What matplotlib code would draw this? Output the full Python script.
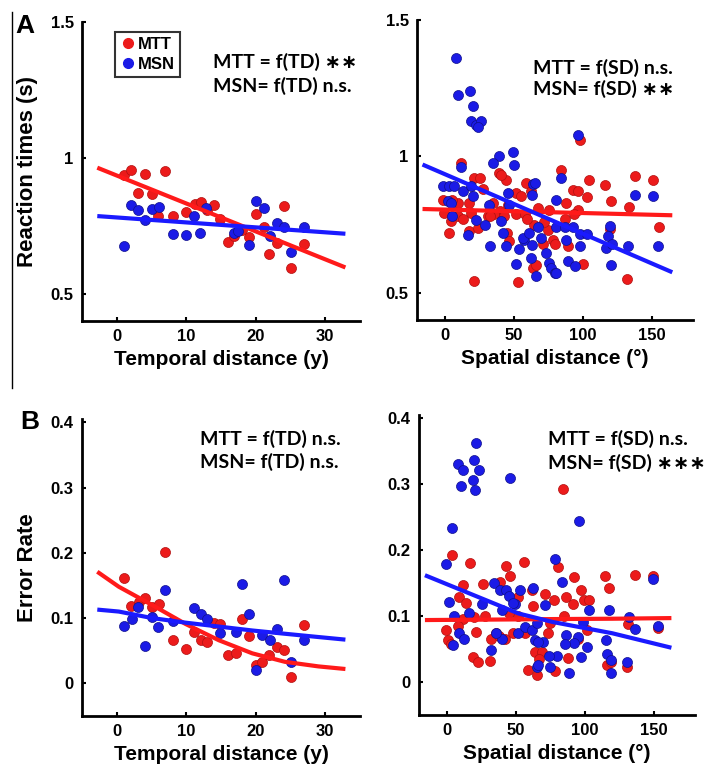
import numpy as np
import matplotlib
matplotlib.use('Agg')
import matplotlib.pyplot as plt
from matplotlib.lines import Line2D

# ---- data ----
# A, left: reaction time vs temporal distance
td_rt_mtt_x = [1.0, 2.1, 4.1, 7.0, 3.1, 5.0, 6.0, 8.1, 10.0, 11.3, 12.1, 13.0, 14.0, 14.9, 16.0,
               16.8, 18.0, 19.0, 20.0, 21.2, 21.9, 23.1, 24.1, 25.0, 27.0]
td_rt_mtt_y = [0.937, 0.955, 0.942, 0.952, 0.871, 0.868, 0.787, 0.787, 0.80, 0.829, 0.837, 0.81,
               0.825, 0.775, 0.689, 0.713, 0.735, 0.709, 0.795, 0.745, 0.647, 0.687, 0.822, 0.594, 0.683]
td_rt_msn_x = [1.0, 2.1, 3.1, 4.1, 5.1, 6.1, 8.1, 10.0, 11.1, 12.0, 12.8, 16.8, 17.5, 19.0, 20.0,
               21.2, 22.1, 23.0, 24.1, 25.0, 27.0]
td_rt_msn_y = [0.675, 0.825, 0.807, 0.771, 0.813, 0.819, 0.72, 0.717, 0.787, 0.725, 0.815, 0.725,
               0.73, 0.68, 0.841, 0.817, 0.711, 0.759, 0.747, 0.653, 0.745]
td_rt_fit_x = [-2.8, 32.9]
td_rt_fit_mtt = [0.964, 0.597]
td_rt_fit_msn = [0.786, 0.721]

# A, right: reaction time vs spatial distance
sd_rt_mtt_x = [-1.4, -0.2, 4.6, 3.4, 9.4, 11.8, 17.9, 19.1, 18, 21.5, 26, 23.9, 21.5, 31.2, 39.6,
               44.4, 41, 40, 36, 43, 46, 52, 51.7, 55, 59.2, 62.8, 65, 52.9, 63.8, 66.4, 71, 76,
               75, 78.5, 80, 84.6, 88, 87, 89.4, 93, 96.6, 96.6, 94, 97.8, 100.2, 103.1, 104.6,
               115.9, 120.3, 119.6, 132.4, 133.3, 137.7, 151, 155, 10, 28, 45, 58, 68, 60, 35,
               47, 13, 5, 33, 72]
sd_rt_mtt_y = [0.84, 0.793, 0.762, 0.72, 0.83, 0.976, 0.83, 0.793, 0.725, 0.92, 0.92, 0.738, 0.543,
               0.78, 0.94, 0.915, 0.933, 0.80, 0.79, 0.78, 0.82, 0.79, 0.866, 0.854, 0.902, 0.872,
               0.75, 0.539, 0.59, 0.60, 0.68, 0.805, 0.73, 0.695, 0.68, 0.949, 0.83, 0.771, 0.671,
               0.876, 0.872, 0.802, 0.787, 1.059, 0.606, 0.85, 0.915, 0.894, 0.835, 0.732, 0.551,
               0.815, 0.929, 0.915, 0.74, 0.78, 0.88, 0.72, 0.79, 0.81, 0.77, 0.83, 0.69, 0.77,
               0.84, 0.78, 0.76]
sd_rt_msn_x = [8.2, 9.9, 18.4, 20.3, 19.1, 22.7, 26.3, 24, 11.8, 39.1, 34.8, 49.8, 50.5, -1.4, 3.4,
               7, 13, 19, 2.2, 4.6, 20.3, 22.7, 16.7, 32.4, 40.8, 42, 33.1, 44.4, 45.7, 63.8, 65.2,
               63, 54.1, 51.7, 57.7, 56.8, 61, 63.5, 62.8, 66.4, 67.6, 73.7, 76, 77.3, 79.7, 80.9,
               84.6, 96.6, 137.7, 151, 81, 87, 93, 98, 103, 88, 97.8, 119.6, 118.3, 117.2, 121,
               132.9, 154.6, 89.4, 94.2, 120.8, 80.9, 70, 5, 47, 29]
sd_rt_msn_y = [1.36, 1.226, 1.238, 1.183, 1.128, 1.116, 1.128, 1.107, 0.961, 1.0, 0.976, 1.015, 0.97,
               0.89, 0.89, 0.89, 0.872, 0.89, 0.835, 0.83, 0.854, 0.768, 0.713, 0.823, 0.762, 0.72,
               0.671, 0.671, 0.866, 0.90, 0.902, 0.86, 0.66, 0.607, 0.695, 0.70, 0.72, 0.675, 0.628,
               0.56, 0.74, 0.647, 0.61, 0.59, 0.573, 0.84, 0.921, 1.079, 0.86, 0.856, 0.74, 0.74,
               0.74, 0.714, 0.714, 0.695, 0.671, 0.746, 0.707, 0.665, 0.68, 0.673, 0.673, 0.616,
               0.598, 0.60, 0.573, 0.70, 0.78, 0.82, 0.75]
sd_rt_fit_x = [-16, 165]
sd_rt_fit_mtt = [0.807, 0.784]
sd_rt_fit_msn = [0.97, 0.575]

# B, left: error rate vs temporal distance
td_er_mtt_x = [7.0, 1.0, 2.0, 3.2, 4.1, 5.1, 6.1, 8.1, 10.0, 11.1, 12.1, 13.0, 14.0, 14.9, 16.0,
               17.1, 18.0, 19.0, 20.0, 20.9, 21.9, 23.0, 24.0, 25.0, 27.0]
td_er_mtt_y = [0.201, 0.161, 0.118, 0.125, 0.131, 0.117, 0.121, 0.067, 0.053, 0.079, 0.066, 0.063,
               0.092, 0.091, 0.043, 0.046, 0.098, 0.072, 0.028, 0.033, 0.043, 0.055, 0.051, 0.010, 0.090]
td_er_msn_x = [1.0, 2.2, 3.1, 4.1, 5.1, 6.0, 7.0, 8.1, 11.1, 12.1, 13.0, 14.9, 17.1, 18.0, 19.0,
               20.0, 20.9, 22.0, 23.1, 24.1, 25.0, 27.0]
td_er_msn_y = [0.088, 0.098, 0.117, 0.058, 0.102, 0.086, 0.143, 0.095, 0.115, 0.106, 0.098, 0.077,
               0.079, 0.152, 0.106, 0.021, 0.074, 0.067, 0.084, 0.159, 0.033, 0.066]
td_er_fit_x = [-2.8, 0.3, 5.1, 9.9, 14.7, 19.5, 24.2, 29.0, 32.9]
td_er_fit_mtt = [0.171, 0.148, 0.120, 0.091, 0.066, 0.046, 0.033, 0.026, 0.022]
td_er_fit_msn = [0.113, 0.110, 0.100, 0.093, 0.087, 0.081, 0.076, 0.071, 0.067]

# B, right: error rate vs spatial distance
sd_er_mtt_x = [4.0, 16.9, 43.3, 46.2, 56.4, 11.7, 9.3, 26.4, 39, 61.7, 71.2, 52.1, 62.9, 20, 12,
               -0.2, 1, 3, 21.2, 31.9, 35.5, 38, 18.8, 22.4, 31.2, 59.3, 65.2, 64.1, 68.8, 73.8,
               52, 80.7, 92.6, 114.8, 117.6, 136.2, 149.8, 97.4, 86.2, 99.8, 103.3, 91.4, 78, 85,
               131.4, 152.9, 102, 87.9, 116.4, 130.7, 78.3, 84.3, 45, 28, 8, 14, 48, 42, 67, 95,
               75, 57, 119]
sd_er_mtt_y = [0.192, 0.18, 0.176, 0.161, 0.182, 0.147, 0.129, 0.148, 0.152, 0.139, 0.134, 0.129,
               0.115, 0.099, 0.095, 0.079, 0.064, 0.058, 0.076, 0.066, 0.074, 0.07, 0.038, 0.031,
               0.032, 0.018, 0.011, 0.046, 0.046, 0.074, 0.10, 0.175, 0.159, 0.161, 0.143, 0.162,
               0.161, 0.14, 0.129, 0.124, 0.124, 0.118, 0.124, 0.10, 0.088, 0.082, 0.079, 0.036,
               0.026, 0.023, 0.016, 0.293, 0.105, 0.10, 0.085, 0.12, 0.075, 0.065, 0.035, 0.065,
               0.09, 0.075, 0.03]
sd_er_msn_x = [21.2, 8.1, 11.7, 20, 23.6, 18.8, 10.5, 20.7, 46.2, 4.0, -0.2, 1.7, 34, 39, 43, 45,
               53.3, 62.9, 16.4, 5.7, 26, 40.2, 49.8, 9.3, 12.9, 4.5, 40.2, 52.1, 56.9, 61.6, 64.1,
               65.2, 70, 31.9, 65.2, 74.8, 71.2, 78.3, 95.7, 83.8, 149.8, 103.3, 117.6, 131.9, 136.6,
               152.9, 98.6, 86.7, 95, 92.6, 85.5, 102.1, 115.2, 116.4, 118.8, 118.8, 97.4, 88.6,
               130.7, 80, 66.4, 74, 48, 36, 66]
sd_er_msn_y = [0.362, 0.331, 0.321, 0.337, 0.321, 0.306, 0.297, 0.291, 0.309, 0.233, 0.179, 0.122,
               0.15, 0.14, 0.14, 0.13, 0.139, 0.143, 0.105, 0.10, 0.119, 0.109, 0.119, 0.074, 0.066,
               0.056, 0.066, 0.074, 0.084, 0.079, 0.064, 0.089, 0.061, 0.048, 0.023, 0.023, 0.117,
               0.187, 0.244, 0.152, 0.156, 0.109, 0.109, 0.099, 0.081, 0.085, 0.091, 0.071, 0.069,
               0.059, 0.058, 0.053, 0.063, 0.043, 0.033, 0.013, 0.038, 0.013, 0.031, 0.04, 0.026,
               0.04, 0.12, 0.075, 0.06]
sd_er_fit_x = [-15.7, 52.1, 77, 120, 162.9]
sd_er_fit_mtt = [0.094, 0.095, 0.0955, 0.096, 0.097]
sd_er_fit_msn = [0.162, 0.104, 0.091, 0.074, 0.052]

td_ticks = [0, 10, 20, 30]
sd_ticks = [0, 50, 100, 150]
rt_ticks = [0.5, 1, 1.5]
rt_labels = ['0.5', '1', '1.5']
er_ticks = [0, 0.1, 0.2, 0.3, 0.4]
er_labels = ['0', '0.1', '0.2', '0.3', '0.4']

RED = '#ec1b1b'
BLUE = '#1b1be6'
LRED = '#ff1a1a'
LBLUE = '#1a1aff'
W, H = 706, 767
BOLD = 'Liberation Sans'
ANN = ['Lato', 'DejaVu Sans']

fig = plt.figure(figsize=(W / 100, H / 100), dpi=100)


def px_axes(x0, x1, ytop, ybot):
    return fig.add_axes([x0 / W, 1 - ybot / H, (x1 - x0) / W, (ybot - ytop) / H])


def style(ax, xlim, ylim, xt, yt, ylab, xlabel):
    ax.set_xlim(*xlim)
    ax.set_ylim(*ylim)
    for s in ['top', 'right']:
        ax.spines[s].set_visible(False)
    for s in ['left', 'bottom']:
        ax.spines[s].set_linewidth(2)
    ax.set_xticks(xt)
    ax.set_yticks(yt)
    ax.set_yticklabels(ylab)
    ax.tick_params(direction='in', length=3, width=1.5, labelsize=12, pad=6)
    for lab in ax.get_xticklabels() + ax.get_yticklabels():
        lab.set_fontfamily(BOLD)
        lab.set_fontweight('bold')
    ax.set_xlabel(xlabel, fontsize=15, fontweight='bold', family=BOLD, labelpad=4)


def draw(ax, rx, ry, bx, by, fx, fr, fb):
    ax.scatter(rx, ry, s=52, color=RED, edgecolor='#b01010', linewidth=0.5, zorder=2)
    ax.scatter(bx, by, s=52, color=BLUE, edgecolor='#10108a', linewidth=0.5, zorder=2)
    ax.plot(fx, fr, color=LRED, lw=3, zorder=3, solid_capstyle='butt')
    ax.plot(fx, fb, color=LBLUE, lw=3, zorder=3, solid_capstyle='butt')


ax1 = px_axes(82, 360, 22, 321)
draw(ax1, td_rt_mtt_x, td_rt_mtt_y, td_rt_msn_x, td_rt_msn_y, td_rt_fit_x, td_rt_fit_mtt, td_rt_fit_msn)
style(ax1, (-5, 35), (0.4, 1.5), td_ticks, rt_ticks, rt_labels, 'Temporal distance (y)')
ax1.set_ylabel('Reaction times (s)', fontsize=16, fontweight='bold', family=BOLD, labelpad=9)

ax2 = px_axes(417, 693, 20, 320)
draw(ax2, sd_rt_mtt_x, sd_rt_mtt_y, sd_rt_msn_x, sd_rt_msn_y, sd_rt_fit_x, sd_rt_fit_mtt, sd_rt_fit_msn)
style(ax2, (-20, 180), (0.4, 1.5), sd_ticks, rt_ticks, rt_labels, 'Spatial distance (°)')

ax3 = px_axes(82, 360, 419, 716)
draw(ax3, td_er_mtt_x, td_er_mtt_y, td_er_msn_x, td_er_msn_y, td_er_fit_x, td_er_fit_mtt, td_er_fit_msn)
style(ax3, (-5, 35), (-0.05, 0.405), td_ticks, er_ticks, er_labels, 'Temporal distance (y)')
ax3.set_ylabel('Error Rate', fontsize=16, fontweight='bold', family=BOLD, labelpad=9)

ax4 = px_axes(419, 695, 415, 715)
draw(ax4, sd_er_mtt_x, sd_er_mtt_y, sd_er_msn_x, sd_er_msn_y, sd_er_fit_x, sd_er_fit_mtt, sd_er_fit_msn)
style(ax4, (-20, 180), (-0.05, 0.405), sd_ticks, er_ticks, er_labels, 'Spatial distance (°)')

# legend in panel A left
handles = [Line2D([], [], marker='o', ls='', color=RED, markersize=7, label='MTT'),
           Line2D([], [], marker='o', ls='', color=BLUE, markersize=7, label='MSN')]
leg = ax1.legend(handles=handles, loc='upper left', bbox_to_anchor=(115 / W, 1 - 32 / H),
                 bbox_transform=fig.transFigure, borderaxespad=0, fancybox=False,
                 edgecolor='black', handletextpad=0.1, handlelength=1.0, borderpad=0.3,
                 labelspacing=0.3, prop={'family': BOLD, 'weight': 'bold', 'size': 12})
leg.get_frame().set_linewidth(1.5)

# significance annotations
notes = [
    (213, 62, 'MTT = f(TD) ∗∗'), (213, 86, 'MSN= f(TD) n.s.'),
    (533, 68, 'MTT = f(SD) n.s.'), (533, 89, 'MSN= f(SD) ∗∗'),
    (200, 439, 'MTT = f(TD) n.s.'), (200, 462, 'MSN= f(TD) n.s.'),
    (548, 439, 'MTT = f(SD) n.s.'), (548, 463, 'MSN= f(SD) ∗∗∗'),
]
for x, y, t in notes:
    fig.text(x / W, 1 - y / H, t, ha='left', va='center', fontsize=14,
             fontweight='bold', family=ANN)

# panel letters
fig.text(25 / W, 1 - 26 / H, 'A', ha='center', va='center', fontsize=19, fontweight='bold', family=BOLD)
fig.text(30 / W, 1 - 422 / H, 'B', ha='center', va='center', fontsize=19, fontweight='bold', family=BOLD)

# thin separator at the left edge of panel A
fig.add_artist(Line2D([12 / W, 12 / W], [1 - 12 / H, 1 - 388 / H], color='black', lw=1))

fig.savefig('out.png', dpi=100, facecolor='white')
